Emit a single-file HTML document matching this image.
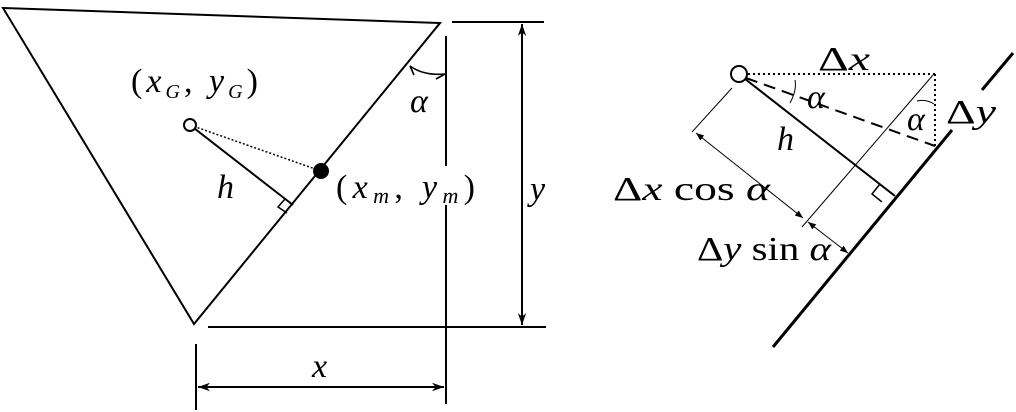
<!DOCTYPE html>
<html><head><meta charset="utf-8"><style>
html,body{margin:0;padding:0;background:#fff;}
svg{display:block}
text{font-family:"Liberation Serif",serif;font-size:34px;fill:#000}
.i{font-style:italic}
</style></head><body>
<svg width="1016" height="412" viewBox="0 0 1016 412" xmlns="http://www.w3.org/2000/svg">
<defs>
<marker id="a" viewBox="0 0 10 10" refX="10" refY="5" markerWidth="12" markerHeight="12" orient="auto-start-reverse" markerUnits="userSpaceOnUse"><path d="M0,1.5 L10,5 L0,8.5 L3,5 Z" fill="#000"/></marker>
<marker id="s" viewBox="0 0 10 10" refX="10" refY="5" markerWidth="8" markerHeight="8" orient="auto-start-reverse" markerUnits="userSpaceOnUse"><path d="M0,1 L10,5 L0,9 Z" fill="#000"/></marker>
</defs>
<g stroke="#000" fill="none" stroke-width="2">
<path d="M3,8 L440,23 L194,324 Z"/>
<line x1="452" y1="22" x2="544" y2="22"/>
<line x1="208" y1="327" x2="546" y2="327"/>
<line x1="446" y1="36" x2="446" y2="166"/>
<line x1="446" y1="205" x2="446" y2="404"/>
<line x1="196" y1="344" x2="196" y2="410"/>
<line x1="522" y1="24" x2="522" y2="325" marker-start="url(#a)" marker-end="url(#a)"/>
<line x1="198" y1="387" x2="444" y2="387" marker-start="url(#a)" marker-end="url(#a)"/>
<path d="M410,66 Q424,76 445,74" stroke-width="1.6"/>
<path d="M410,66 l4,9 M445,74 l-9,5" stroke-width="1.6"/>
<line x1="190" y1="125" x2="293" y2="205"/>
<path d="M285,199 l-7,8 l9,6" stroke-width="1.5"/>
<line x1="190" y1="125" x2="321" y2="171" stroke-width="1.5" stroke-dasharray="2,2"/>
<circle cx="190" cy="125" r="6" fill="#fff"/>
<circle cx="321" cy="171" r="7" fill="#000"/>

<line x1="748" y1="74" x2="935" y2="74" stroke-dasharray="2,3"/>
<line x1="935" y1="74" x2="935" y2="146" stroke-dasharray="2,3"/>
<line x1="1013" y1="53" x2="982" y2="90" stroke-width="3"/>
<line x1="952" y1="130" x2="773" y2="347" stroke-width="3"/>
<line x1="740" y1="75" x2="895" y2="196"/>
<path d="M880,184 l-8,10 l10,8" stroke-width="1.5"/>
<line x1="746" y1="78" x2="935" y2="146" stroke-dasharray="12,7"/>
<line x1="933" y1="75" x2="802" y2="227" stroke-width="1"/>
<line x1="732" y1="88" x2="692" y2="132" stroke-width="1"/>
<line x1="696" y1="133" x2="803" y2="218" stroke-width="1" marker-start="url(#s)" marker-end="url(#s)"/>
<line x1="808" y1="222" x2="848" y2="253" stroke-width="1" marker-start="url(#s)" marker-end="url(#s)"/>
<path d="M795,80 Q797,90 790,103" stroke-width="1"/>
<path d="M917,101 Q926,99 934,104" stroke-width="1"/>
<circle cx="739" cy="74" r="8" fill="#fff"/>
</g>
<text x="131" y="92" textLength="127" lengthAdjust="spacing"><tspan>(</tspan><tspan class="i">x</tspan><tspan class="i" font-size="20" dy="6">G</tspan><tspan dy="-6">, </tspan><tspan class="i">y</tspan><tspan class="i" font-size="20" dy="6">G</tspan><tspan dy="-6">)</tspan></text>
<text x="410" y="112" class="i">α</text>
<text x="217" y="198" class="i">h</text>
<text x="336" y="198" textLength="139" lengthAdjust="spacing"><tspan>(</tspan><tspan class="i">x</tspan><tspan class="i" font-size="22" dy="5">m</tspan><tspan dy="-5">, </tspan><tspan class="i">y</tspan><tspan class="i" font-size="22" dy="5">m</tspan><tspan dy="-5">)</tspan></text>
<text x="530" y="200" class="i">y</text>
<text x="312" y="377" class="i">x</text>
<text x="818" y="70" textLength="52" lengthAdjust="spacingAndGlyphs">Δ<tspan class="i">x</tspan></text>
<text x="807" y="108" class="i">α</text>
<text x="907" y="130" class="i">α</text>
<text x="946" y="123" textLength="50" lengthAdjust="spacingAndGlyphs">Δ<tspan class="i">y</tspan></text>
<text x="777" y="150" class="i">h</text>
<text x="613" y="200" textLength="157" lengthAdjust="spacingAndGlyphs">Δ<tspan class="i">x</tspan> cos <tspan class="i">α</tspan></text>
<text x="697" y="260" textLength="134" lengthAdjust="spacingAndGlyphs">Δ<tspan class="i">y</tspan> sin <tspan class="i">α</tspan></text>
</svg>
</body></html>
